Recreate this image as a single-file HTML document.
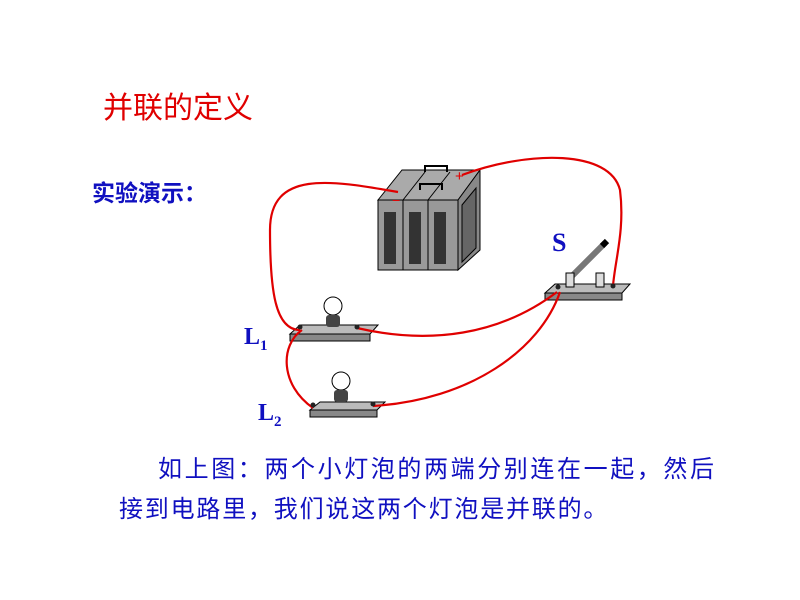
<!DOCTYPE html>
<html><head><meta charset="utf-8"><style>
body{margin:0;width:800px;height:600px;background:#fff;overflow:hidden;position:relative;font-family:"Liberation Sans","Noto Sans CJK SC",sans-serif}
.t{position:absolute;white-space:nowrap}
</style></head><body>
<div class="t" style="left:103px;top:83px;font-size:30px;color:#e00000">并联的定义</div>
<div class="t" style="left:92px;top:174px;font-size:23px;color:#1010c0;font-weight:bold">实验演示：</div>
<div class="t" style="left:158px;top:449px;font-size:24px;letter-spacing:2.6px;color:#1010c0">如上图：两个小灯泡的两端分别连在一起，然后</div>
<div class="t" style="left:119px;top:489px;font-size:24px;letter-spacing:1.8px;color:#1010c0">接到电路里，我们说这两个灯泡是并联的。</div>
<div class="t" style="left:244px;top:324px;font-size:24px;font-weight:bold;font-family:'Liberation Serif',serif;color:#1010c0">L<sub style="font-size:15px">1</sub></div>
<div class="t" style="left:258px;top:400px;font-size:24px;font-weight:bold;font-family:'Liberation Serif',serif;color:#1010c0">L<sub style="font-size:15px">2</sub></div>
<div class="t" style="left:552px;top:228px;font-size:26px;font-weight:bold;font-family:'Liberation Serif',serif;color:#1010c0">S</div>
<svg width="800" height="600" style="position:absolute;left:0;top:0">
<g stroke="#000" stroke-width="1">
<polygon points="378,200 402,170 480,170 458,200" fill="#aaa"/>
<line x1="403" y1="200" x2="425" y2="172"/><line x1="428" y1="200" x2="450" y2="172"/>
<rect x="378" y="200" width="25" height="70" fill="#999"/>
<rect x="403" y="200" width="25" height="70" fill="#999"/>
<rect x="428" y="200" width="30" height="70" fill="#999"/>
<polygon points="458,200 480,170 480,250 458,270" fill="#888"/>
<polygon points="462,205 476,188 476,248 462,262" fill="#666"/>
</g>
<g fill="#333">
<rect x="384" y="212" width="12" height="52"/><rect x="409" y="212" width="12" height="52"/><rect x="434" y="212" width="12" height="52"/>
</g>
<path d="M420,190 v-6 h22 v6 M425,172 v-6 h22 v6" fill="none" stroke="#000" stroke-width="2"/>
<text x="392" y="205" fill="#e00000" font-size="14">−</text>
<text x="455" y="181" fill="#e00000" font-size="15">+</text>
<polygon points="290,334 300,325 378,325 370,334" fill="#bbb" stroke="#000"/>
<rect x="290" y="334" width="80" height="7" fill="#888" stroke="#000"/>
<polygon points="310,410 320,402 385,402 377,410" fill="#bbb" stroke="#000"/>
<rect x="310" y="410" width="67" height="7" fill="#888" stroke="#000"/>
<g stroke="#000" fill="#fff"><circle cx="333" cy="306" r="9"/><circle cx="341" cy="381" r="9"/></g>
<g fill="#444"><rect x="326" y="315" width="14" height="12" rx="3"/><rect x="334" y="390" width="14" height="12" rx="3"/></g>
<polygon points="545,293 555,284 630,284 622,293" fill="#bbb" stroke="#000"/>
<rect x="545" y="293" width="77" height="7" fill="#888" stroke="#000"/>
<line x1="568" y1="280" x2="605" y2="243" stroke="#777" stroke-width="6"/>
<line x1="602" y1="246" x2="607" y2="241" stroke="#000" stroke-width="6"/>
<rect x="566" y="273" width="8" height="14" fill="#ddd" stroke="#000"/>
<rect x="596" y="273" width="8" height="14" fill="#ddd" stroke="#000"/>
<g fill="none" stroke="#e00000" stroke-width="2.2">
<path d="M398,192 C330,180 270,170 270,230 C270,290 275,330 300,330"/>
<path d="M357,328 C430,345 500,335 557,292"/>
<path d="M462,175 C530,150 610,150 620,190 C625,230 615,260 613,286"/>
<path d="M302,330 C280,345 280,385 313,408"/>
<path d="M373,406 C470,400 540,350 560,292"/>
</g>
<g fill="#222"><circle cx="300" cy="327" r="2.5"/><circle cx="357" cy="327" r="2.5"/><circle cx="313" cy="405" r="2.5"/><circle cx="373" cy="404" r="2.5"/><circle cx="558" cy="287" r="2.5"/><circle cx="613" cy="286" r="2.5"/></g>
</svg>
</body></html>
